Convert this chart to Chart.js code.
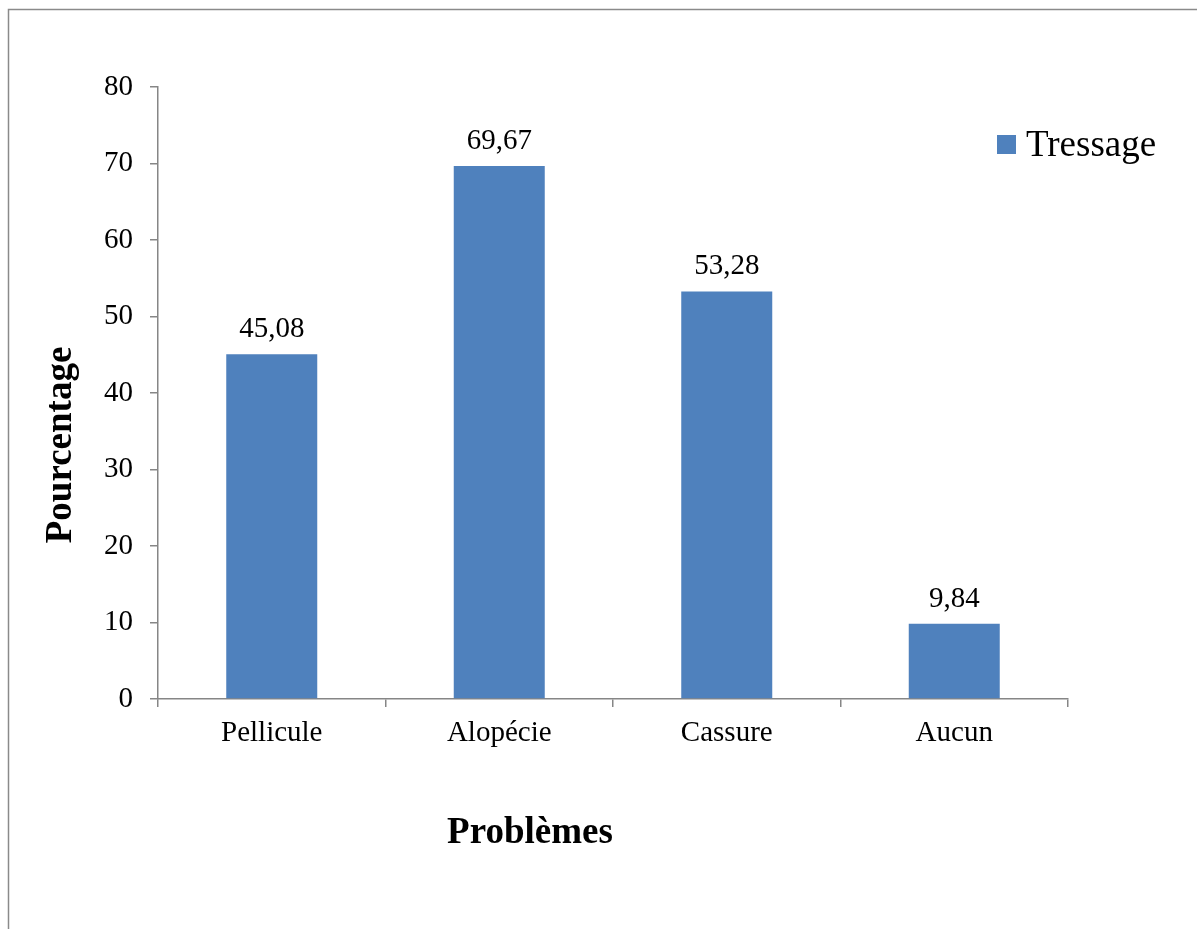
<!DOCTYPE html>
<html>
<head>
<meta charset="utf-8">
<script src="https://cdn.jsdelivr.net/npm/chart.js@4/dist/chart.umd.min.js"></script>
<style>
  html, body { margin: 0; padding: 0; background: #ffffff; }
  #wrap { position: relative; width: 1197px; height: 929px; }
  canvas { display: block; }
</style>
</head>
<body>
<div id="wrap"><canvas id="chart" width="1197" height="929"></canvas></div>
<script>
// Hair problems reported after braiding (percent of respondents)
const categories = ['Pellicule', 'Alopécie', 'Cassure', 'Aucun'];
const tressage = [45.08, 69.67, 53.28, 9.84];
const seriesName = 'Tressage';
const yTicks = [0, 10, 20, 30, 40, 50, 60, 70, 80];
const xTitle = 'Problèmes';
const yTitle = 'Pourcentage';

const SERIF = '"Liberation Serif", "Times New Roman", serif';
const AXIS_GREY = '#868686';
const BAR_BLUE = '#4F81BD';

const fmt = v => v.toFixed(2).replace('.', ',');

// Extras: outer frame, value labels, axis titles and legend
const decorations = {
  id: 'decorations',
  beforeDraw(chart) {
    const ctx = chart.ctx;
    ctx.save();
    ctx.strokeStyle = '#8a8a8a';
    ctx.lineWidth = 1.5;
    ctx.beginPath();
    ctx.moveTo(8.5, chart.height);
    ctx.lineTo(8.5, 9.5);
    ctx.lineTo(chart.width, 9.5);
    ctx.stroke();
    ctx.restore();
  },
  afterDatasetsDraw(chart) {
    const ctx = chart.ctx;
    const meta = chart.getDatasetMeta(0);
    const data = chart.data.datasets[0].data;
    ctx.save();
    ctx.fillStyle = '#000';
    ctx.font = '29px ' + SERIF;
    ctx.textAlign = 'center';
    ctx.textBaseline = 'alphabetic';
    meta.data.forEach((bar, i) => {
      ctx.fillText(fmt(data[i]), bar.x, bar.y - 17);
    });

    // x axis title
    ctx.font = 'bold 37px ' + SERIF;
    ctx.fillText(xTitle, 530, 843);

    // y axis title
    ctx.save();
    ctx.translate(71, 445);
    ctx.rotate(-Math.PI / 2);
    ctx.fillText(yTitle, 0, 0);
    ctx.restore();

    // legend
    const ds = chart.data.datasets[0];
    ctx.fillStyle = ds.backgroundColor;
    ctx.fillRect(997, 135, 19, 19);
    ctx.fillStyle = '#000';
    ctx.font = '37px ' + SERIF;
    ctx.textAlign = 'left';
    ctx.fillText(ds.label, 1026, 156);
    ctx.restore();
  }
};

new Chart(document.getElementById('chart'), {
  type: 'bar',
  data: {
    labels: categories,
    datasets: [{
      label: seriesName,
      data: tressage,
      backgroundColor: BAR_BLUE,
      borderWidth: 0,
      categoryPercentage: 0.8,
      barPercentage: 0.5
    }]
  },
  options: {
    responsive: false,
    animation: false,
    devicePixelRatio: 1,
    layout: { padding: { top: 87, right: 129, bottom: 0, left: 0 } },
    plugins: {
      legend: { display: false },
      tooltip: { enabled: false }
    },
    scales: {
      x: {
        grid: {
          display: true,
          drawOnChartArea: false,
          drawTicks: true,
          tickLength: 8,
          color: AXIS_GREY,
          lineWidth: 1.5,
          offset: true
        },
        border: { display: true, color: AXIS_GREY, width: 1.5 },
        ticks: {
          color: '#000',
          font: { family: SERIF, size: 29 },
          padding: 9,
          maxRotation: 0
        },
        afterFit(scale) { scale.height = 230; }
      },
      y: {
        min: 0,
        max: 80,
        afterBuildTicks(scale) { scale.ticks = yTicks.map(v => ({ value: v })); },
        grid: {
          display: true,
          drawOnChartArea: false,
          drawTicks: true,
          tickLength: 8,
          color: AXIS_GREY,
          lineWidth: 1.5
        },
        border: { display: true, color: AXIS_GREY, width: 1.5 },
        ticks: {
          color: '#000',
          font: { family: SERIF, size: 29 },
          padding: 17
        },
        afterFit(scale) { scale.width = 158; }
      }
    }
  },
  plugins: [decorations]
});
</script>
</body>
</html>
